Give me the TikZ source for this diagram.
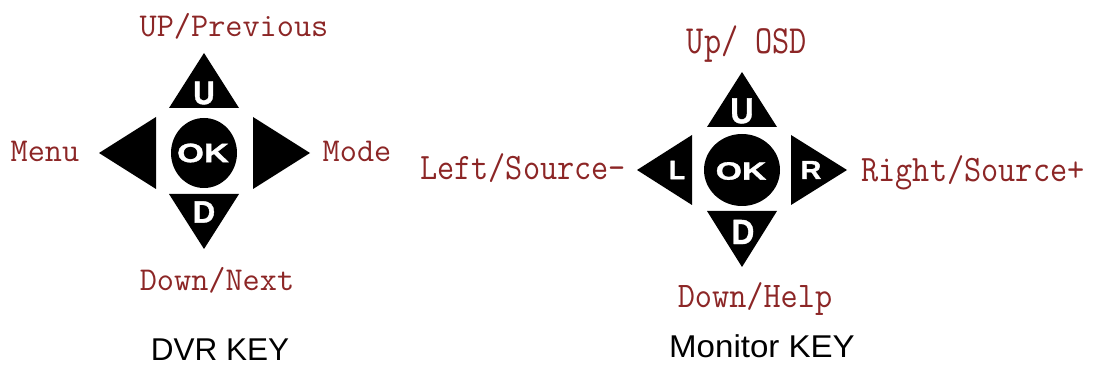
\documentclass[tikz,border=0pt]{standalone}
\usepackage{fontspec}
\newfontfamily\keyfont[FakeBold=1.2]{Liberation Sans Bold}
\newfontfamily\capfont{Liberation Sans}
\definecolor{lblred}{RGB}{140,38,38}
\tikzset{
  lbl/.style={text=lblred, font=\ttfamily\fontsize{33.3}{34}\selectfont, inner sep=0pt, anchor=base},
  capt/.style={text=black, font=\capfont\fontsize{31.5}{33}\selectfont, inner sep=0pt, anchor=base},
  keyl/.style={text=white, inner sep=0pt, anchor=center},
  padshape/.style={fill=black, draw=none}
}
\newcommand{\kf}[1]{\keyfont\fontsize{#1}{#1}\selectfont}
\begin{document}
\begin{tikzpicture}[x=1pt,y=-1pt]
\useasboundingbox (0,0) rectangle (1096,366);

% ---------------- DVR KEY pad ----------------
\fill[padshape] (204,53) -- (169,108) -- (239,108) -- cycle;
\fill[padshape] (169,194) -- (239,194) -- (204,249) -- cycle;
\fill[padshape] (99,153) -- (156,117) -- (156,189) -- cycle;
\fill[padshape] (253,117) -- (253,189) -- (310,153) -- cycle;
\fill[padshape] (204,153) ellipse [x radius=33, y radius=35];

\node[keyl, font=\kf{33}, xscale=0.9] (dU) at (204,93) {U};
\node[keyl, font=\kf{31}] (dD) at (204,212) {D};
\node[keyl, font=\kf{26.5}, xscale=1.3] (dOK) at (203,153) {OK};

\node[lbl] (dup) at (234,37) {UP/Previous};
\node[lbl] (dmenu) at (45,162) {Menu};
\node[lbl] (dmode) at (357,162) {Mode};
\node[lbl] (ddown) at (217,291) {Down/Next};
\node[capt] (dcap) at (220,360) {DVR KEY};

% ---------------- Monitor KEY pad ----------------
\fill[padshape] (742,72) -- (707,127) -- (777,127) -- cycle;
\fill[padshape] (707,211) -- (777,211) -- (742,267) -- cycle;
\fill[padshape] (637,170) -- (692,135) -- (692,205) -- cycle;
\fill[padshape] (791,135) -- (791,205) -- (847,170) -- cycle;
\fill[padshape] (742,170) ellipse [x radius=38, y radius=36];

\node[keyl, font=\kf{36}, xscale=0.9] (mU) at (742,111) {U};
\node[keyl, font=\kf{35}, xscale=0.9] (mD) at (743,232) {D};
\node[keyl, font=\kf{26.5}] (mL) at (677,170) {L};
\node[keyl, font=\kf{26}, xscale=1.1] (mR) at (811,170) {R};
\node[keyl, font=\kf{25}, xscale=1.35] (mOK) at (741,171) {OK};

\node[lbl, yscale=1.2] (mup) at (747,54) {Up/ OSD};
\node[lbl, yscale=1.12] (mleft) at (523,180) {Left/Source-};
\node[lbl, yscale=1.12] (mright) at (973,182) {Right/Source+};
\node[lbl, yscale=1.08] (mdown) at (755,308) {Down/Help};
\node[capt, xscale=1.05] (mcap) at (762,357) {Monitor KEY};
\end{tikzpicture}
\end{document}
